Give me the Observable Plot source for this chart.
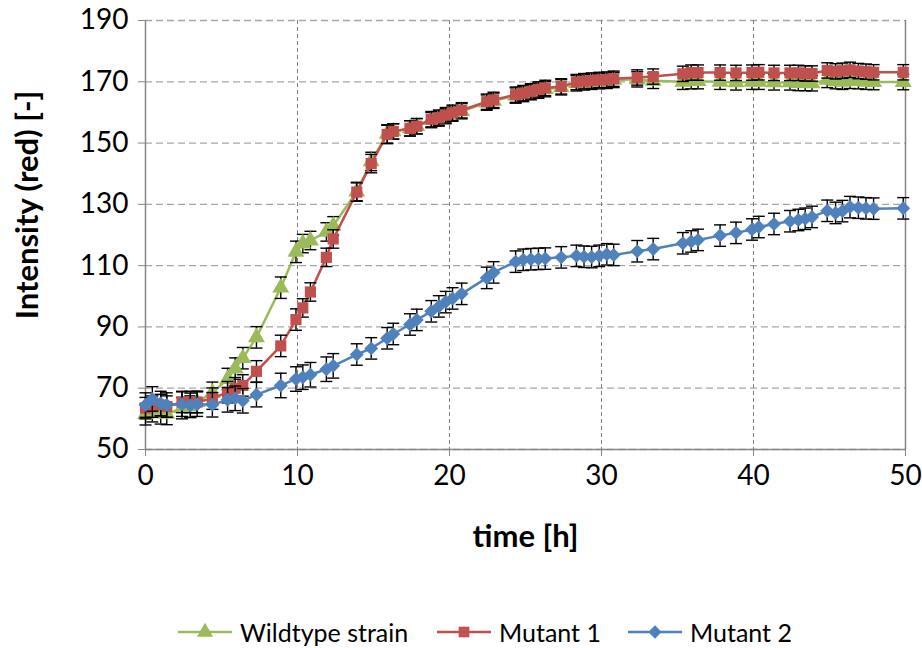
<!DOCTYPE html>
<html>
<head>
<meta charset="utf-8">
<script src="https://cdn.jsdelivr.net/npm/d3@7"></script>
<script src="https://cdn.jsdelivr.net/npm/@observablehq/plot@0.6"></script>
<style>
  html, body { margin: 0; padding: 0; background: #fff; }
  #wrap { position: relative; width: 922px; height: 648px; font-family: Lato, "Open Sans", sans-serif; }
  #legend { position: absolute; left: 0; top: 614px; width: 922px; height: 36px; display: flex; align-items: center; font-size: 25px; color: #000; }
  .item { position: absolute; display: flex; align-items: center; }
  .item svg { margin-right: 8px; }
</style>
</head>
<body>
<div id="wrap"><div id="chart"></div><div id="legend"></div></div>
<script>
const times = [0,0.45,1.0,1.4,2.4, 2.95,3.4,4.4,5.4,5.9, 6.4,7.3,8.9,9.9,10.35, 10.85,11.9,12.35,13.9,14.85,
  15.9,16.3,17.4,17.85,18.8, 19.3,19.75,20.2,20.8,22.45, 22.9,24.35,24.85,25.35,25.85, 26.3,27.35,28.35,28.85,29.35,
  29.85,30.35,30.8,32.35,33.4, 35.35,35.9,36.35,37.8,38.85, 39.9,40.35,41.35,42.4,42.95, 43.4,43.85,44.85,45.4,45.85,
  46.35,46.9,47.4,47.9,49.85];

const wildtype = [61.5,62.5,61.8,61.6,63.5, 64,65.5,68.5,73,76.4, 79.8,86.6,102.8,114.5,117.2, 118.2,121,123,134.2,144,
  153,153.8,154.8,155.5,157.5, 158,158.8,159.6,160.4,163.2, 163.8,165.5,166,166.6,167.1, 167.6,168.2,169.5,169.8,170,
  170.2,170.3,170.6,170.8,170.3, 170,170.2,170.2,170,169.8, 170,170,169.8,169.8,169.6, 169.6,169.5,170.6,170.2,170,
  170.3,170.2,170,169.9,169.9];

const mutant1 = [63.5,64,64.5,64,65.5, 65.5,65.5,66.6,68.7,70, 70.9,75.5,83.8,92.4,96.2, 101.4,112.7,118.7,134,143.3,
  152.8,153.8,154.8,155.5,157.8, 158.3,159.1,159.9,160.7,163.5, 164.1,165.8,166.3,166.9,167.5, 168,168.5,169.9,170.2,170.4,
  170.6,170.7,171,171.4,171.7, 172.6,173,173,173,172.9, 173,173.1,172.9,172.9,172.9, 172.7,172.7,173.7,173.4,173.6,
  173.9,173.5,173.3,173.1,173.1];

const mutant2 = [64.5,66.5,65,64.5,64.8, 64.4,64.8,64.6,66.2,66.7, 65.9,67.9,70.9,73,73.6, 74.4,76.2,77.3,81,83,
  86.3,87.7,90.8,92.3,95.1, 96.7,98.1,99.3,100.8,106, 107.8,111.3,111.9,112.1,112.2, 112.3,112.7,113.2,112.9,112.8,
  113.2,113.7,113.5,114.7,115.4, 117.3,117.9,118.4,119.8,120.7, 121.8,122.6,123.6,124.5,124.9, 125.3,125.9,127.9,127.2,127.8,
  129.1,128.9,128.7,128.6,128.7];

const wildtypeErr = [3.5,3.5,3.5,3.5,3.5, 3.5,3.5,3.5,3.5,3.5, 3.5,3.5,3.5,3.5,3, 3,3,3,3,3,
  3,2.5,2.5,2.5,2.5, 2.5,2.5,2.5,2.5,2.5, 2.5,2.5,2.5,2.5,2.5, 2.5,2.5,2.5,2.5,2.5,
  2.5,2.5,2.5,2.5,2.5, 2.5,2.5,2.5,2.5,2.5, 2.5,2.5,2.5,2.5,2.5, 2.5,2.5,2.5,2.5,2.5,
  2.5,2.5,2.5,2.5,2.5];
const mutant1Err = [3.5,3.5,3.5,3.5,3.5, 3.5,3.5,3.5,3.5,3.5, 3.5,3.5,3.5,3.5,3, 3,3,3,3,3,
  3,2.5,2.5,2.5,2.5, 2.5,2.5,2.5,2.5,2.5, 2.5,2.5,2.5,2.5,2.5, 2.5,2.5,2.5,2.5,2.5,
  2.5,2.5,2.5,2.5,2.5, 2.5,2.5,2.5,2.5,2.5, 2.5,2.5,2.5,2.5,2.5, 2.5,2.5,2.5,2.5,2.5,
  2.5,2.5,2.5,2.5,2.5];
const mutant2Err = [4,4,4,4,4, 4,4,4,4,4, 4,4,4,4,4, 4,4,4,3.5,3.5,
  3.5,3.5,3.5,3.5,3.5, 3.5,3.5,3.5,3.5,3.5, 3.5,3.5,3.5,3.5,3.5, 3.5,3.5,3.5,3.5,3.5,
  3.5,3.5,3.5,3.5,3.5, 3.5,3.5,3.5,3.5,3.5, 3.5,3.5,3.5,3.5,3.5, 3.5,3.5,3.5,3.5,3.5,
  3.5,3.5,3.5,3.5,3.5];

const seriesNames = ["Wildtype strain", "Mutant 1", "Mutant 2"];
const seriesColors = ["#9BBB59", "#C0504D", "#4F81BD"];
const seriesSymbols = ["triangle", "square", "diamond2"];
const xTicks = [0, 10, 20, 30, 40, 50];
const yTicks = [50, 70, 90, 110, 130, 150, 170, 190];

const seriesValues = [wildtype, mutant1, mutant2];
const seriesErrors = [wildtypeErr, mutant1Err, mutant2Err];
const series = seriesNames.map((name, k) => ({
  name, color: seriesColors[k], symbol: seriesSymbols[k],
  rows: times.map((t, i) => ({t, v: seriesValues[k][i], e: seriesErrors[k][i]}))
}));

const cap = { draw(ctx) { ctx.moveTo(-6, 0); ctx.lineTo(6, 0); } };

const marks = [
  Plot.gridY(yTicks, {stroke: "#A6A6A6", strokeOpacity: 1, strokeWidth: 1.3, strokeDasharray: "7,4"}),
  Plot.gridX(xTicks.filter(d => d > 0 && d < 50), {stroke: "#7F7F7F", strokeOpacity: 1, strokeWidth: 1, strokeDasharray: "4,3"}),
  Plot.ruleX([50], {stroke: "#868686", strokeWidth: 1.5}),
  Plot.ruleX([0], {stroke: "#868686", strokeWidth: 1.5}),
  Plot.ruleY([50], {stroke: "#868686", strokeWidth: 1.5}),
  Plot.axisY({ticks: yTicks, tickSize: 7, tickPadding: 10, stroke: "#868686", fontSize: 28, label: null}),
  Plot.axisX({ticks: xTicks, tickSize: 7, tickPadding: 9, stroke: "#868686", fontSize: 28, label: null}),
  Plot.text(["time [h]"], {frameAnchor: "bottom", dy: 97, fontSize: 31, fontWeight: "bold", fill: "#000"}),
  Plot.text(["Intensity (red) [-]"], {frameAnchor: "left", textAnchor: "middle", rotate: -90, dx: -117, dy: -30, fontSize: 31, fontWeight: "bold", fill: "#000"})
];

for (const s of series) {
  marks.push(Plot.line(s.rows, {x: "t", y: "v", stroke: s.color, strokeWidth: 2.5}));
  marks.push(Plot.ruleX(s.rows, {x: "t", y1: d => d.v - d.e, y2: d => d.v + d.e, stroke: "#000", strokeWidth: 1.4}));
  marks.push(Plot.dot(s.rows, {x: "t", y: d => d.v - d.e, symbol: cap, r: 3, stroke: "#000", fill: "none", strokeWidth: 1.4}));
  marks.push(Plot.dot(s.rows, {x: "t", y: d => d.v + d.e, symbol: cap, r: 3, stroke: "#000", fill: "none", strokeWidth: 1.4}));
  marks.push(Plot.dot(s.rows, {x: "t", y: "v", symbol: s.symbol, r: 6.3, fill: s.color, stroke: "none"}));
}

const chart = Plot.plot({
  width: 922,
  height: 600,
  marginLeft: 145,
  marginRight: 17,
  marginTop: 20,
  marginBottom: 151,
  style: {fontFamily: "Lato, 'Open Sans', sans-serif", fontSize: "28px", color: "#000", background: "#fff", overflow: "visible"},
  x: {domain: [0, 50], ticks: xTicks},
  y: {domain: [50, 190], ticks: yTicks},
  marks
});
document.getElementById("chart").appendChild(chart);

// Legend (HTML below the SVG)
const legend = document.getElementById("legend");
const itemLefts = [178, 437, 628];
const symPaths = {
  triangle: d3.symbol(d3.symbolTriangle, 113)(),
  square: d3.symbol(d3.symbolSquare, 113)(),
  diamond2: d3.symbol(d3.symbolDiamond2, 113)()
};
series.forEach((s, k) => {
  const div = document.createElement("div");
  div.className = "item";
  div.style.left = itemLefts[k] + "px";
  div.innerHTML = `<svg width="54" height="20" viewBox="0 0 54 20"><line x1="0" y1="10" x2="54" y2="10" stroke="${s.color}" stroke-width="2.5"/><path d="${symPaths[s.symbol]}" transform="translate(27,10)" fill="${s.color}"/></svg><span>${s.name}</span>`;
  legend.appendChild(div);
});
</script>
</body>
</html>
